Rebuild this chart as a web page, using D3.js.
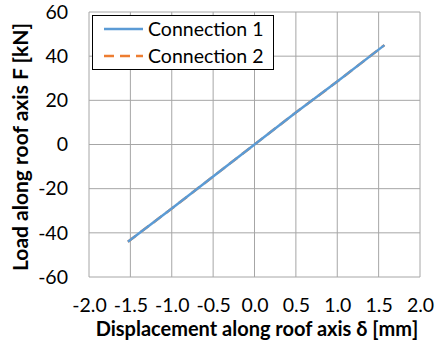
<!DOCTYPE html>
<html>
<head>
<meta charset="utf-8">
<script src="https://cdn.jsdelivr.net/npm/d3@7"></script>
<style>
  body { margin: 0; background: #fff; }
  text { font-family: Lato, "Open Sans", sans-serif; }
</style>
</head>
<body>
<div id="vis-tag"></div>
<script>
// 数据
const seriesNames = ["Connection 1", "Connection 2"];
const seriesColors = ["#5b9bd5", "#ed7d31"];
const conn1Disp = [-1.53, -1.0, -0.5, 0.0, 0.5, 1.0, 1.57];
const conn1Load = [-44, -29, -14.5, 0, 14.5, 28.5, 45];
const conn2Disp = [-1.53, -1.0, -0.5, 0.0, 0.5, 1.0, 1.57];
const conn2Load = [-44, -29, -14.5, 0, 14.5, 28.5, 45];
const xTicks = [-2.0, -1.5, -1.0, -0.5, 0.0, 0.5, 1.0, 1.5, 2.0];
const yTicks = [-60, -40, -20, 0, 20, 40, 60];

const width = 436, height = 344;
const margin = { top: 12, right: 16, bottom: 67, left: 89 };
const font = "Lato, 'Open Sans', sans-serif";
// 用普通连字符代替 D3 的 unicode 减号
const hyphen = fmt => d => fmt(d).replace("\u2212", "-");

const svg = d3.select("#vis-tag").append("svg")
  .attr("width", width).attr("height", height);

const x = d3.scaleLinear().domain([-2, 2]).range([margin.left, width - margin.right]);
const y = d3.scaleLinear().domain([-60, 60]).range([height - margin.bottom, margin.top]);

// 网格
svg.append("g").selectAll("line").data(xTicks).enter().append("line")
  .attr("x1", d => x(d)).attr("x2", d => x(d))
  .attr("y1", y(60)).attr("y2", y(-60))
  .attr("stroke", "#a6a6a6").attr("stroke-width", 1);
svg.append("g").selectAll("line").data(yTicks).enter().append("line")
  .attr("x1", x(-2)).attr("x2", x(2))
  .attr("y1", d => y(d)).attr("y2", d => y(d))
  .attr("stroke", "#a6a6a6").attr("stroke-width", 1);

// 坐标轴
const xAxis = svg.append("g")
  .attr("transform", `translate(0, ${y(-60)})`)
  .call(d3.axisBottom(x).tickValues(xTicks).tickFormat(hyphen(d3.format(".1f"))).tickSize(0).tickPadding(21));
xAxis.select(".domain").remove();
xAxis.selectAll("text").attr("font-size", 19.5).attr("fill", "#000").style("font-family", font);

const yAxis = svg.append("g")
  .attr("transform", `translate(${x(-2)}, 0)`)
  .call(d3.axisLeft(y).tickValues(yTicks).tickFormat(hyphen(d3.format("d"))).tickSize(0).tickPadding(21));
yAxis.select(".domain").remove();
yAxis.selectAll("text").attr("font-size", 19.5).attr("fill", "#000").style("font-family", font);

// 线条
const line = d3.line().x(d => x(d[0])).y(d => y(d[1]));
const data2 = conn2Disp.map((d, i) => [d, conn2Load[i]]);
const data1 = conn1Disp.map((d, i) => [d, conn1Load[i]]);
svg.append("path").datum(data2).attr("d", line)
  .attr("fill", "none").attr("stroke", seriesColors[1]).attr("stroke-width", 2.5)
  .attr("stroke-dasharray", "10,6");
svg.append("path").datum(data1).attr("d", line)
  .attr("fill", "none").attr("stroke", seriesColors[0]).attr("stroke-width", 2.5);

// 图例
const lg = svg.append("g");
lg.append("rect").attr("x", 92.5).attr("y", 15.5).attr("width", 181).attr("height", 54)
  .attr("fill", "#fff").attr("stroke", "#000").attr("stroke-width", 1);
seriesNames.forEach((name, i) => {
  const ly = 29 + i * 27;
  lg.append("line").attr("x1", 104).attr("x2", 143).attr("y1", ly).attr("y2", ly)
    .attr("stroke", seriesColors[i]).attr("stroke-width", 2.5)
    .attr("stroke-dasharray", i === 1 ? "10,6" : null);
  lg.append("text").attr("x", 148).attr("y", ly + 6.5).attr("font-size", 19.5)
    .attr("fill", "#000").text(name);
});

// 轴标题
svg.append("text").attr("x", 257).attr("y", 336)
  .attr("text-anchor", "middle").attr("font-size", 20).attr("font-weight", "bold")
  .text("Displacement along roof axis δ [mm]");
svg.append("text")
  .attr("transform", `translate(28, 147) rotate(-90)`)
  .attr("text-anchor", "middle").attr("font-size", 21).attr("font-weight", "bold")
  .text("Load along roof axis F [kN]");
</script>
</body>
</html>
